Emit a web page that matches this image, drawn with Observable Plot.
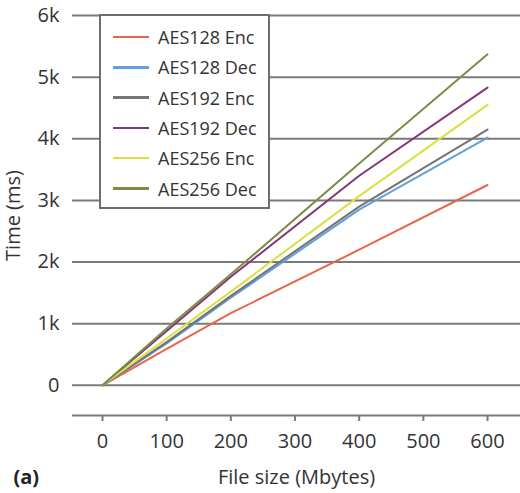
<!DOCTYPE html>
<html>
<head>
<meta charset="utf-8">
<script src="https://cdn.jsdelivr.net/npm/d3@7"></script>
<script src="https://cdn.jsdelivr.net/npm/@observablehq/plot@0.6"></script>
<style>
  html, body { margin: 0; padding: 0; background: #ffffff; }
  #wrap { position: relative; width: 520px; height: 493px; font-family: "Open Sans", sans-serif; }
  #legend { position: absolute; left: 99px; top: 14px; width: 167px; height: 191px;
    background: #fff; border: 2px solid #6e6e6e; box-sizing: content-box; }
  .row { position: absolute; left: 12px; height: 22px; display: flex; align-items: center; }
  .sw { width: 36px; height: 2.5px; margin-right: 9px; }
  .lab { font-size: 18px; color: #333; white-space: nowrap; }
</style>
</head>
<body>
<div id="wrap"></div>
<script>
const fileSizes = [0, 100, 200, 400, 600];
const seriesNames = ["AES128 Enc", "AES128 Dec", "AES192 Enc", "AES192 Dec", "AES256 Enc", "AES256 Dec"];
const aes128Enc = [0, 590, 1170, 2200, 3250];
const aes128Dec = [0, 680, 1420, 2850, 4020];
const aes192Enc = [0, 700, 1450, 2900, 4150];
const aes192Dec = [0, 880, 1760, 3400, 4830];
const aes256Enc = [0, 760, 1520, 3070, 4550];
const aes256Dec = [0, 920, 1800, 3600, 5370];
const colors = ["#e8644c", "#64a0d8", "#747474", "#833776", "#d7e23e", "#7d8c45"];
const yTicks = [0, 1000, 2000, 3000, 4000, 5000, 6000];
const yTickLabels = ["0", "1k", "2k", "3k", "4k", "5k", "6k"];
const xTicks = [0, 100, 200, 300, 400, 500, 600];

const seriesValues = [aes128Enc, aes128Dec, aes192Enc, aes192Dec, aes256Enc, aes256Dec];
const data = [];
seriesNames.forEach((name, i) => {
  fileSizes.forEach((x, j) => data.push({series: name, size: x, time: seriesValues[i][j]}));
});

const xDomain = [-46.75, 651.4];
const yDomain = [-490, 6000];

const chart = Plot.plot({
  width: 520,
  height: 493,
  marginLeft: 72,
  marginRight: 0,
  marginTop: 15,
  marginBottom: 78,
  style: {fontFamily: "Open Sans, sans-serif", background: "transparent", color: "#333"},
  x: {domain: xDomain, label: null},
  y: {domain: yDomain, label: null},
  color: {domain: seriesNames, range: colors},
  marks: [
    Plot.ruleY(yTicks, {x1: xDomain[0], x2: xDomain[1], stroke: "#7a7a7a", strokeWidth: 2}),
    Plot.ruleY([yDomain[0]], {x1: xDomain[0], x2: xDomain[1], stroke: "#7a7a7a", strokeWidth: 2}),
    Plot.axisY({ticks: yTicks, tickFormat: (d) => yTickLabels[yTicks.indexOf(d)], tickSize: 0, tickPadding: 13,
      fontSize: 20, label: "Time (ms)", labelAnchor: "center", labelOffset: 67, labelArrow: "none"}),
    Plot.axisX({ticks: xTicks, tickSize: 6, tickPadding: 12, stroke: "#7a7a7a", strokeWidth: 2,
      fontSize: 20, label: "File size (Mbytes)", labelAnchor: "center", labelOffset: 68, labelArrow: "none"}),
    Plot.line(data, {x: "size", y: "time", z: "series", stroke: "series", strokeWidth: 2}),
    Plot.text(["(a)"], {frameAnchor: "bottom-left", lineAnchor: "middle", dx: -59, dy: 62, fontWeight: "bold", fontSize: 20, textAnchor: "start", fill: "#222"})
  ]
});
const wrap = document.getElementById("wrap");
wrap.appendChild(chart);

const legend = document.createElement("div");
legend.id = "legend";
seriesNames.forEach((name, i) => {
  const row = document.createElement("div");
  row.className = "row";
  row.style.top = (10 + i * 30.3) + "px";
  row.innerHTML = `<div class="sw" style="background:${colors[i]}"></div><div class="lab">${name}</div>`;
  legend.appendChild(row);
});
wrap.appendChild(legend);
</script>
</body>
</html>
